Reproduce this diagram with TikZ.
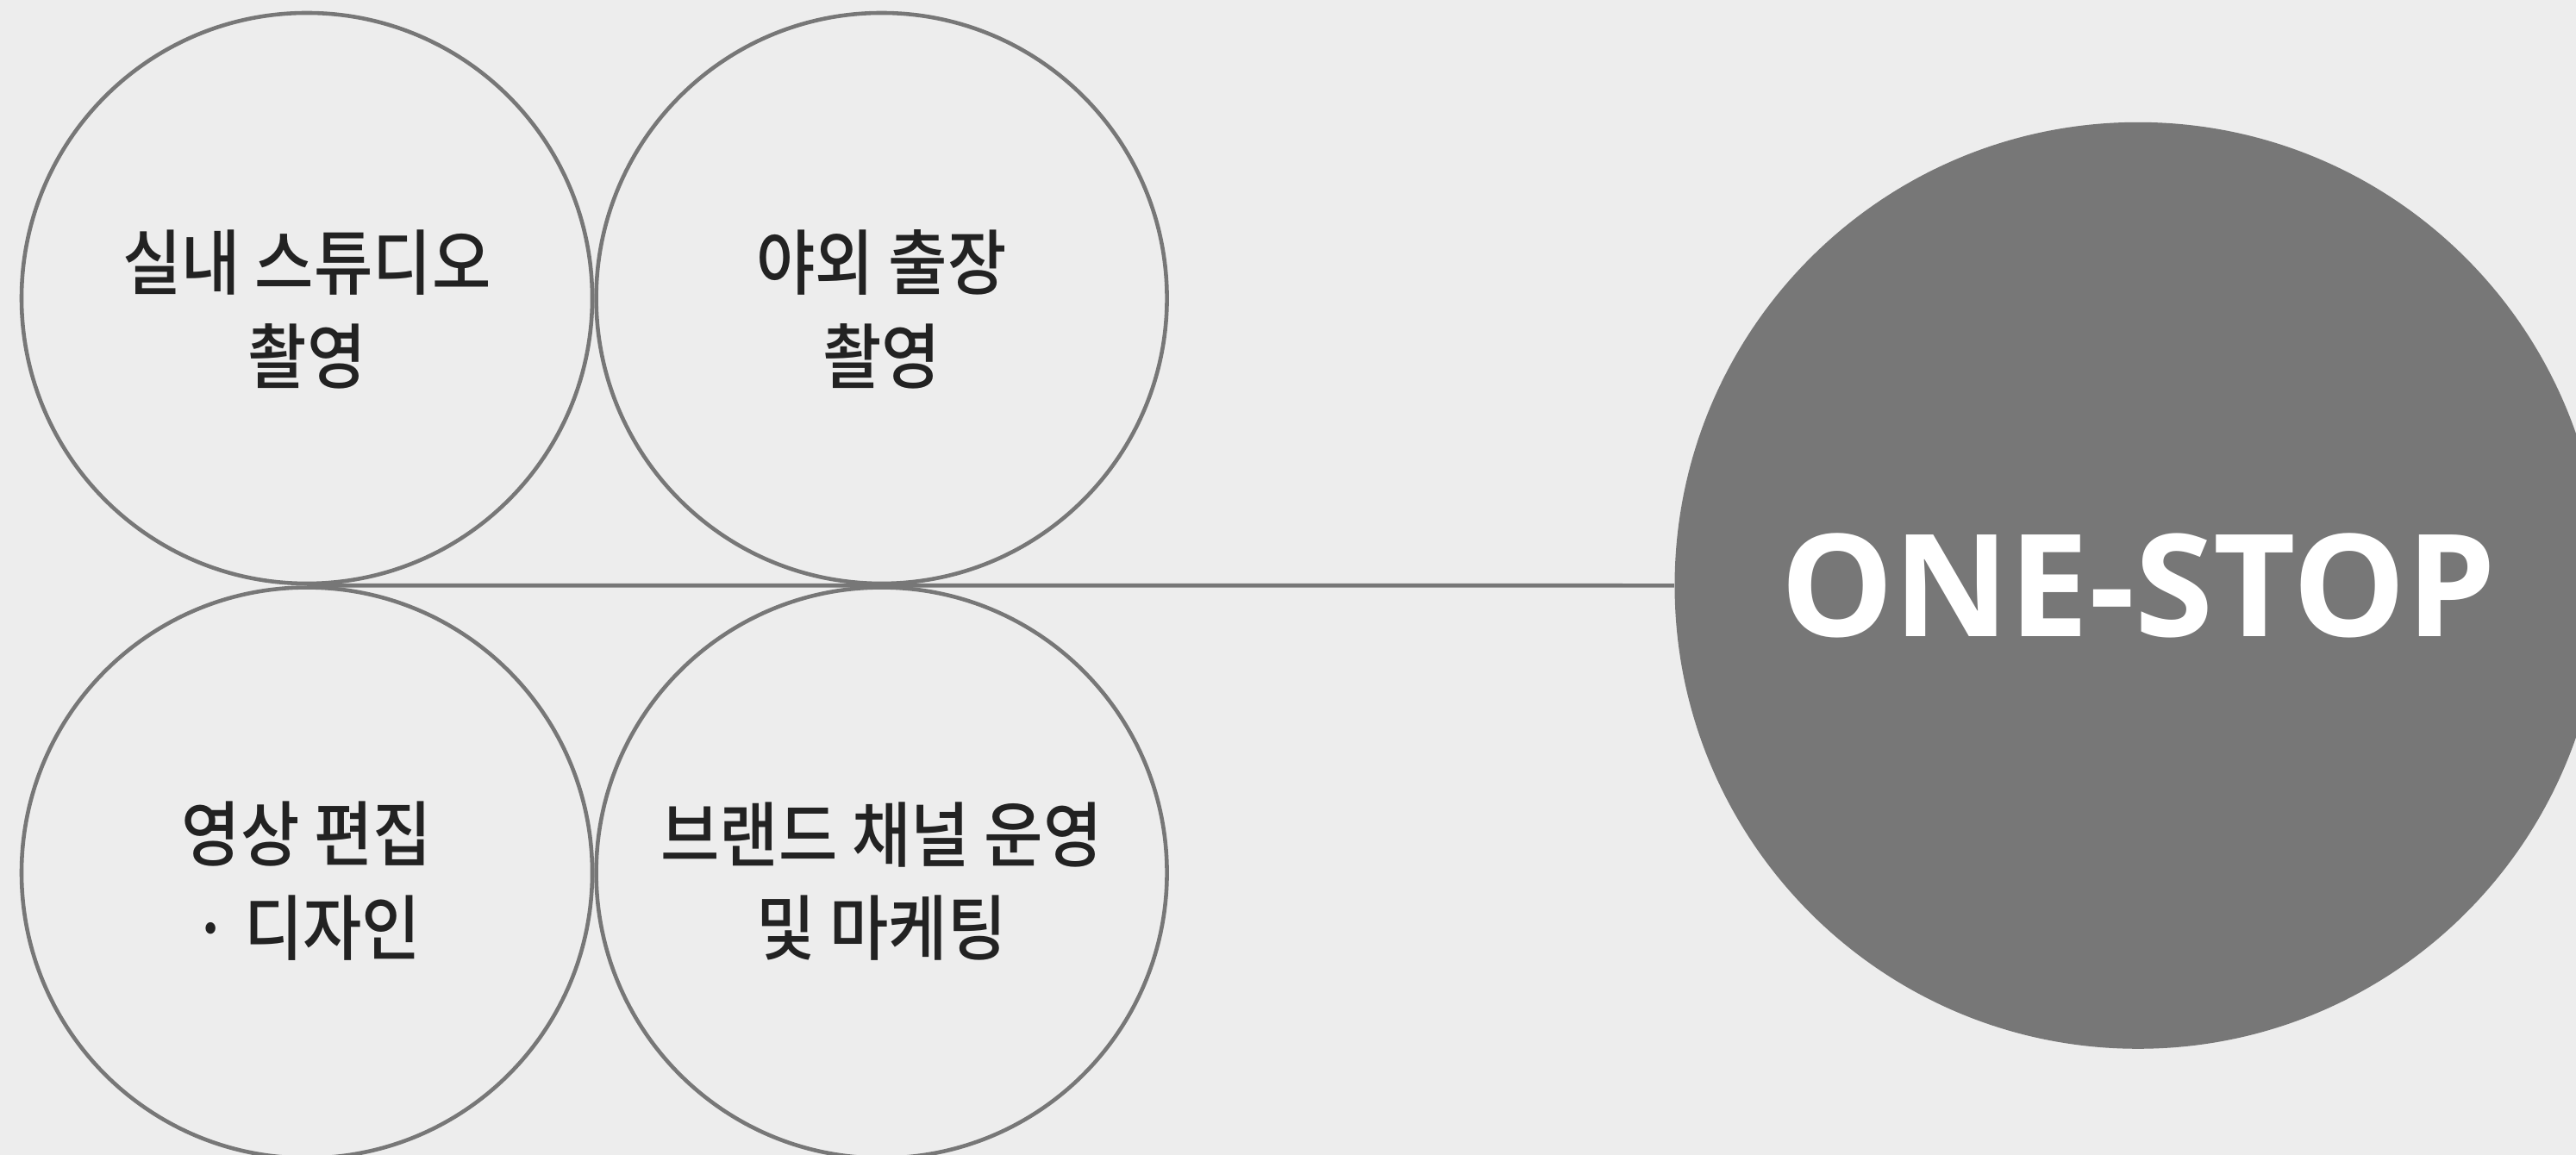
\documentclass[tikz,border=0pt]{standalone}
\usepackage{fontspec}
\setmainfont{Open Sans}
\newfontfamily\krfont[FakeStretch=0.9]{Noto Sans CJK KR Medium}
\usetikzlibrary{positioning}
\definecolor{bgcolor}{HTML}{EDEDED}
\definecolor{ringcolor}{HTML}{777777}
\definecolor{inkcolor}{HTML}{222222}
\tikzset{
  servicecircle/.style={circle, draw=ringcolor, line width=1.3pt, minimum size=6.62cm,
    inner sep=0pt},
  servicetext/.style={text=inkcolor, align=center, font=\krfont\fontsize{23.5}{31}\selectfont},
  hubcircle/.style={circle, fill=ringcolor, minimum size=10.75cm, inner sep=0pt,
    text=white, font=\bfseries\fontsize{47}{56}\selectfont},
  linkline/.style={draw=ringcolor, line width=1.3pt}
}

\begin{document}
\begin{tikzpicture}
    %background
    \useasboundingbox (0,0) rectangle (29.88,13.4);
    \fill[bgcolor] (0,0) rectangle (29.88,13.4);
    \clip (0,0) rectangle (29.88,13.4);
    %service circles
    \node[servicecircle] (studio) at (3.56,9.94) {};
    \node[servicecircle, right=0cm of studio] (outdoor) {};
    \node[servicecircle, below=0cm of studio] (edit) {};
    \node[servicecircle, right=0cm of edit] (brand) {};
    %labels
    \node[servicetext, yshift=-0.13cm] (studiotext) at (studio) {실내 스튜디오\\촬영};
    \node[servicetext, yshift=-0.13cm] (outdoortext) at (outdoor) {야외 출장\\촬영};
    \node[servicetext, yshift=-0.1cm] (edittext) at (edit) {영상 편집\\· 디자인};
    \node[servicetext, yshift=-0.1cm] (brandtext) at (brand) {브랜드 채널 운영\\및 마케팅};
    %hub
    \node[hubcircle] (onestop) at (24.80,6.607) {ONE-STOP};
    %link
    \draw[linkline] (studio.south) -- (onestop.west);
\end{tikzpicture}
\end{document}
